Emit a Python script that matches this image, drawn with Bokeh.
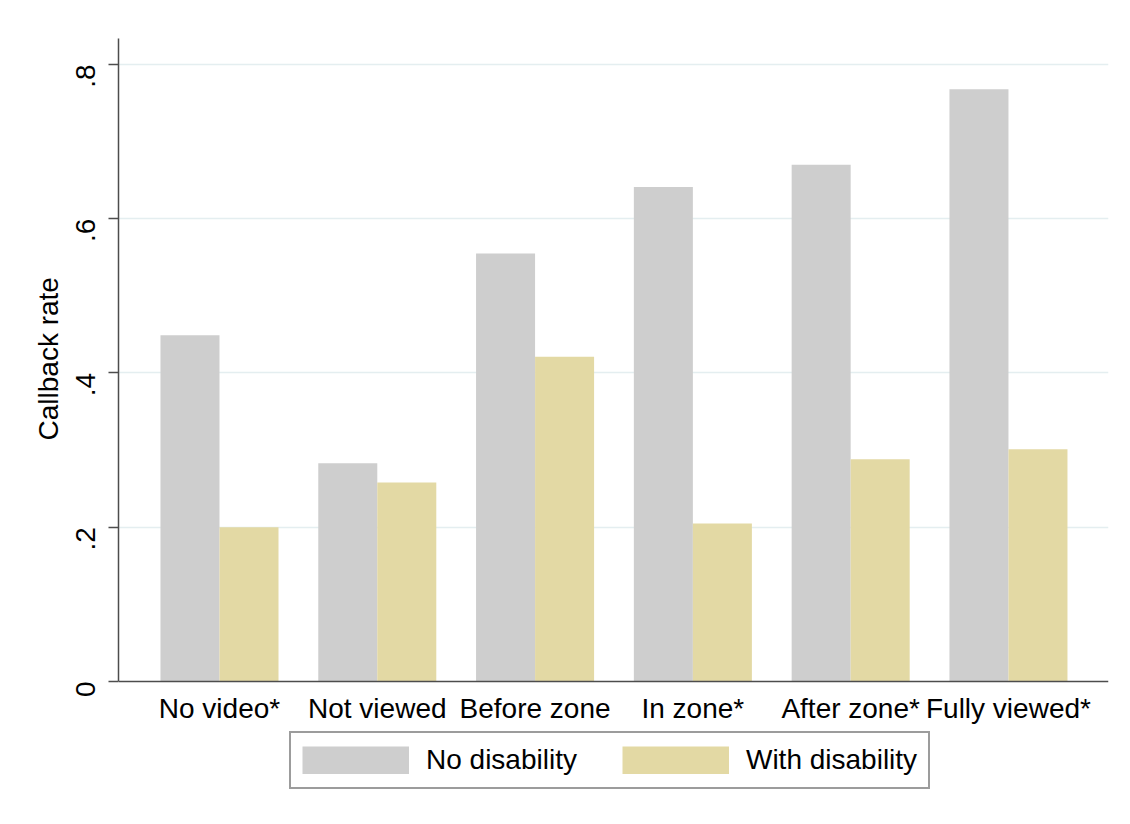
from bokeh.plotting import figure
from bokeh.models import ColumnDataSource, FixedTicker, Range1d, Legend, LegendItem, Title
from bokeh.transform import dodge
from bokeh.embed import file_html
from bokeh.resources import INLINE
import math

categories = ["No video*", "Not viewed", "Before zone", "In zone*", "After zone*", "Fully viewed*"]
no_disability = [0.449, 0.283, 0.555, 0.641, 0.670, 0.768]
with_disability = [0.200, 0.258, 0.421, 0.205, 0.288, 0.301]
series_names = ["No disability", "With disability"]
y_ticks = [0, 0.2, 0.4, 0.6, 0.8]
y_tick_labels = ["0", ".2", ".4", ".6", ".8"]
y_label = "Callback rate"

GRAY = "#cecece"
TAN = "#e3d9a4"
FONT = "Liberation Sans"
Y_MAX = 0.8337

source = ColumnDataSource(dict(
    x=list(range(len(categories))),
    nod=no_disability,
    wd=with_disability,
))

# frame extends below the zero line so the legend can sit inside it
p = figure(width=1114, height=808, output_backend="svg", toolbar_location=None,
           x_range=Range1d(-0.640, 5.634), y_range=Range1d(-0.1543, Y_MAX),
           min_border_left=118, min_border_right=6, min_border_top=38, min_border_bottom=8)
p.background_fill_color = "white"
p.border_fill_color = "white"
p.outline_line_color = None

bw = 0.374
r1 = p.vbar(x=dodge("x", -bw / 2, range=p.x_range), top="nod", width=bw, source=source,
            fill_color=GRAY, line_color=None)
r2 = p.vbar(x=dodge("x", bw / 2, range=p.x_range), top="wd", width=bw, source=source,
            fill_color=TAN, line_color=None)

# legend swatches: placeholder line renderers (no visible data) drawn as thick butt-capped lines
nan = float("nan")
l1 = p.line(x=[nan], y=[nan], line_width=28, line_color=GRAY, line_cap="butt")
l2 = p.line(x=[nan], y=[nan], line_width=28, line_color=TAN, line_cap="butt")

# x axis fixed at zero
p.xaxis.fixed_location = 0
p.xaxis.ticker = FixedTicker(ticks=list(range(len(categories))))
p.xaxis.major_label_overrides = {i: c for i, c in enumerate(categories)}
p.xaxis.major_tick_line_color = None
p.xaxis.minor_tick_line_color = None
p.xaxis.major_tick_out = 0
p.xaxis.major_label_standoff = 12
p.xaxis.major_label_text_font = FONT
p.xaxis.major_label_text_font_size = "28px"
p.xaxis.major_label_text_color = "black"
p.xaxis.axis_line_color = "#4d4d4d"
p.xaxis.axis_line_width = 1.5

p.yaxis.bounds = (0, Y_MAX)
p.yaxis.ticker = FixedTicker(ticks=y_ticks)
p.yaxis.major_label_overrides = {t: l for t, l in zip(y_ticks, y_tick_labels)}
p.yaxis.major_label_orientation = math.pi / 2
p.yaxis.major_tick_out = 10
p.yaxis.major_tick_in = 0
p.yaxis.minor_tick_line_color = None
p.yaxis.major_tick_line_color = "#4d4d4d"
p.yaxis.major_tick_line_width = 1.5
p.yaxis.major_label_standoff = 23
p.yaxis.major_label_text_font = FONT
p.yaxis.major_label_text_font_size = "28px"
p.yaxis.major_label_text_color = "black"
p.yaxis.axis_line_color = "#4d4d4d"
p.yaxis.axis_line_width = 1.5

# y-axis title, placed so it is centred on the 0..top part of the axis
ytitle = Title(text=y_label, align="left", offset=360, vertical_align="bottom",
               text_font=FONT, text_font_size="28px", text_font_style="normal",
               text_color="black", standoff=0)
p.add_layout(ytitle, "left")

p.xgrid.grid_line_color = None
p.ygrid.grid_line_color = "#e4eef0"
p.ygrid.grid_line_width = 1.5
p.ygrid.ticker = FixedTicker(ticks=y_ticks[1:])

legend = Legend(items=[LegendItem(label=series_names[0], renderers=[l1]),
                       LegendItem(label=series_names[1], renderers=[l2])],
                orientation="horizontal", location=(171, 11))
legend.glyph_width = 107
legend.glyph_height = 28
legend.label_standoff = 17
legend.spacing = 45
legend.padding = 11
legend.margin = 0
legend.label_text_font = FONT
legend.label_text_font_size = "28px"
legend.label_text_color = "black"
legend.border_line_color = "#3a3a3a"
legend.border_line_width = 2
legend.background_fill_color = "white"
legend.background_fill_alpha = 1.0
p.add_layout(legend, "center")

open("out.html", "w").write(file_html(p, INLINE))
